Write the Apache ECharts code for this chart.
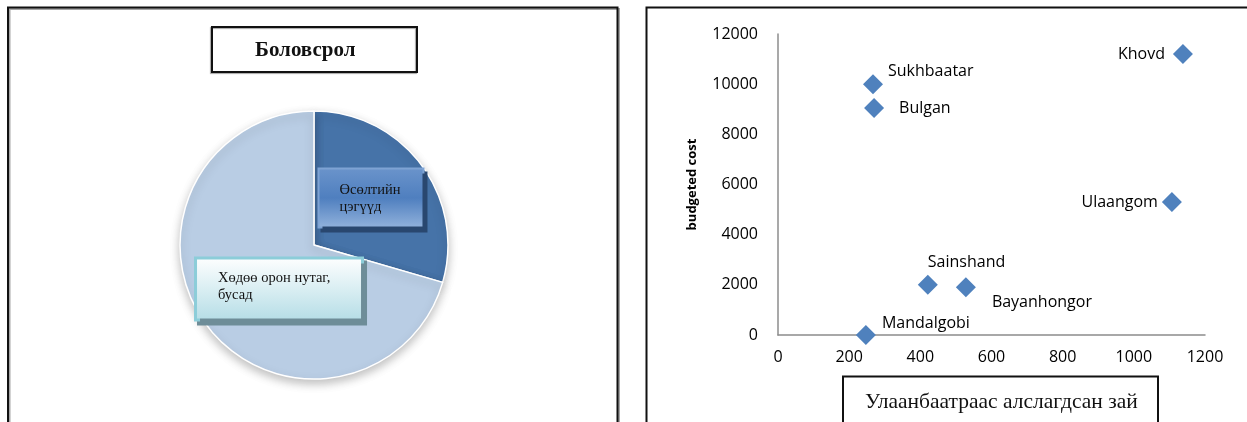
<!DOCTYPE html>
<html>
<head>
<meta charset="utf-8">
<script src="https://cdn.jsdelivr.net/npm/echarts@6/dist/echarts.min.js"></script>
<style>
  html, body { margin: 0; padding: 0; background: #fff; }
  #chart { width: 1247px; height: 422px; }
</style>
</head>
<body>
<div id="chart"></div>
<script>
// Education: share of schooling by area
const pieTitle = 'Боловсрол';
const sliceNames = ['Өсөлтийн\nцэгүүд', 'Хөдөө орон нутаг,\nбусад'];
const sliceShares = [29.5, 70.5];

// Distance from Ulaanbaatar vs budgeted cost, per aimag centre
const cities = ['Mandalgobi', 'Sainshand', 'Bayanhongor', 'Sukhbaatar', 'Bulgan', 'Ulaangom', 'Khovd'];
const distanceKm = [247, 421, 528, 267, 270, 1107, 1138];
const budgetedCost = [0, 2000, 1900, 10000, 9050, 5300, 11200];

const xAxisTitle = 'Улаанбаатраас алслагдсан зай';
const yAxisTitle = 'budgeted cost';

// label placement for each point on the scatter
const pointLabelStyle = {
  Mandalgobi:  { position: 'right', distance: 6,  offset: [0, -12] },
  Sainshand:   { position: 'top',   distance: 3,  align: 'left', offset: [0, -1] },
  Bayanhongor: { position: 'right', distance: 16, offset: [0, 15] },
  Sukhbaatar:  { position: 'right', distance: 5,  offset: [0, -13] },
  Bulgan:      { position: 'right', distance: 15, offset: [0, 0] },
  Ulaangom:    { position: 'left',  distance: 4,  offset: [0, 0] },
  Khovd:       { position: 'left',  distance: 8,  offset: [0, 0] }
};

const sliceStyles = [
  {
    color: '#4673a8',
    label: {
      offset: [1, -5], width: 83, padding: [12, 0, 11, 20],
      borderColor: '#7ea3d3', borderWidth: 2,
      shadowColor: '#29476f', shadowOffsetX: 3, shadowOffsetY: 4, shadowBlur: 0,
      backgroundColor: new echarts.graphic.LinearGradient(0, 0, 0, 1, [
        { offset: 0, color: '#6b94cb' },
        { offset: 0.5, color: '#4f7fbf' },
        { offset: 1, color: '#93b3dc' }
      ])
    }
  },
  {
    color: '#b9cde4',
    label: {
      offset: [21, 2], width: 143, padding: [10, 0, 15, 21],
      borderColor: '#8ccdd9', borderWidth: 3,
      shadowColor: '#6e8d98', shadowOffsetX: 3, shadowOffsetY: 4, shadowBlur: 0,
      backgroundColor: new echarts.graphic.LinearGradient(0, 0, 0, 1, [
        { offset: 0, color: '#ffffff' },
        { offset: 1, color: '#b4dde6' }
      ])
    }
  }
];

const pieData = sliceNames.map((name, i) => ({
  name,
  value: sliceShares[i],
  itemStyle: { color: sliceStyles[i].color },
  label: sliceStyles[i].label
}));

const scatterData = cities.map((name, i) => ({
  name,
  value: [distanceKm[i], budgetedCost[i]],
  label: pointLabelStyle[name]
}));

const chart = echarts.init(document.getElementById('chart'), null, { renderer: 'canvas' });

chart.setOption({
  animation: false,
  backgroundColor: '#ffffff',
  title: [
    {
      text: pieTitle,
      left: 212, top: 28,
      padding: [13, 62, 11, 43],
      borderColor: '#111', borderWidth: 2,
      shadowColor: 'rgba(0,0,0,0.35)', shadowOffsetX: -1, shadowOffsetY: 1, shadowBlur: 1,
      textStyle: {
        fontFamily: 'Liberation Serif', fontWeight: 'bold', fontSize: 21,
        color: '#111', lineHeight: 19
      }
    },
    {
      // boxed caption under the distance axis
      text: xAxisTitle,
      left: 843, top: 376.5,
      padding: [14, 21, 40, 22],
      borderColor: '#111', borderWidth: 2,
      textStyle: {
        fontFamily: 'Liberation Serif', fontWeight: 'normal', fontSize: 21.5,
        color: '#111', lineHeight: 24
      }
    }
  ],
  graphic: [
    {
      type: 'rect', z: -10, silent: true,
      shape: { x: 8, y: 7.5, width: 609.5, height: 430 },
      style: { fill: 'none', stroke: '#111', lineWidth: 2,
               shadowColor: 'rgba(0,0,0,0.35)', shadowOffsetX: 1.5, shadowOffsetY: 1.5, shadowBlur: 0 }
    },
    {
      type: 'rect', z: -10, silent: true,
      shape: { x: 646.5, y: 7.5, width: 620, height: 430 },
      style: { fill: 'none', stroke: '#111', lineWidth: 2 }
    }
  ],
  grid: { left: 778, right: 42, top: 34, bottom: 87, containLabel: false, outerBoundsMode: 'none' },
  xAxis: {
    type: 'value', min: 0, max: 1200, interval: 200,
    axisLine: { lineStyle: { color: '#8c8c8c', width: 1.5 } },
    axisTick: { show: false },
    splitLine: { show: false },
    axisLabel: { fontFamily: 'Open Sans', fontSize: 16, color: '#000', margin: 14,
                 formatter: v => String(v) }
  },
  yAxis: {
    type: 'value', min: 0, max: 12000, interval: 2000,
    name: yAxisTitle, nameLocation: 'middle', nameRotate: 90, nameGap: 79,
    nameTextStyle: { fontFamily: 'Open Sans', fontWeight: 'bold', fontSize: 13, color: '#000' },
    axisLine: { show: true, lineStyle: { color: '#8c8c8c', width: 1.5 } },
    axisTick: { show: false },
    splitLine: { show: false },
    axisLabel: { fontFamily: 'Open Sans', fontSize: 16, color: '#000', margin: 20,
                 formatter: v => String(v) }
  },
  series: [
    {
      type: 'pie',
      center: [314, 245],
      radius: 134,
      startAngle: 90,
      clockwise: true,
      silent: true,
      data: pieData,
      itemStyle: {
        borderColor: '#ffffff', borderWidth: 1.5,
        shadowColor: 'rgba(0,0,0,0.25)', shadowBlur: 10, shadowOffsetY: 4
      },
      labelLine: { show: false },
      label: {
        show: true, position: 'inside',
        fontFamily: 'Liberation Serif', fontSize: 14.5, lineHeight: 17,
        color: '#111',
        formatter: p => p.name.split('\n').map(line => '{t|' + line + '}').join('\n'),
        rich: {
          t: { align: 'left', fontFamily: 'Liberation Serif', fontSize: 14.5, lineHeight: 17, color: '#111' }
        }
      }
    },
    {
      type: 'scatter',
      symbol: 'diamond',
      symbolSize: 20,
      itemStyle: { color: '#4f81bd', opacity: 1 },
      data: scatterData,
      label: {
        show: true,
        fontFamily: 'Open Sans', fontSize: 16, color: '#000',
        formatter: p => p.name
      }
    }
  ]
});
</script>
</body>
</html>
